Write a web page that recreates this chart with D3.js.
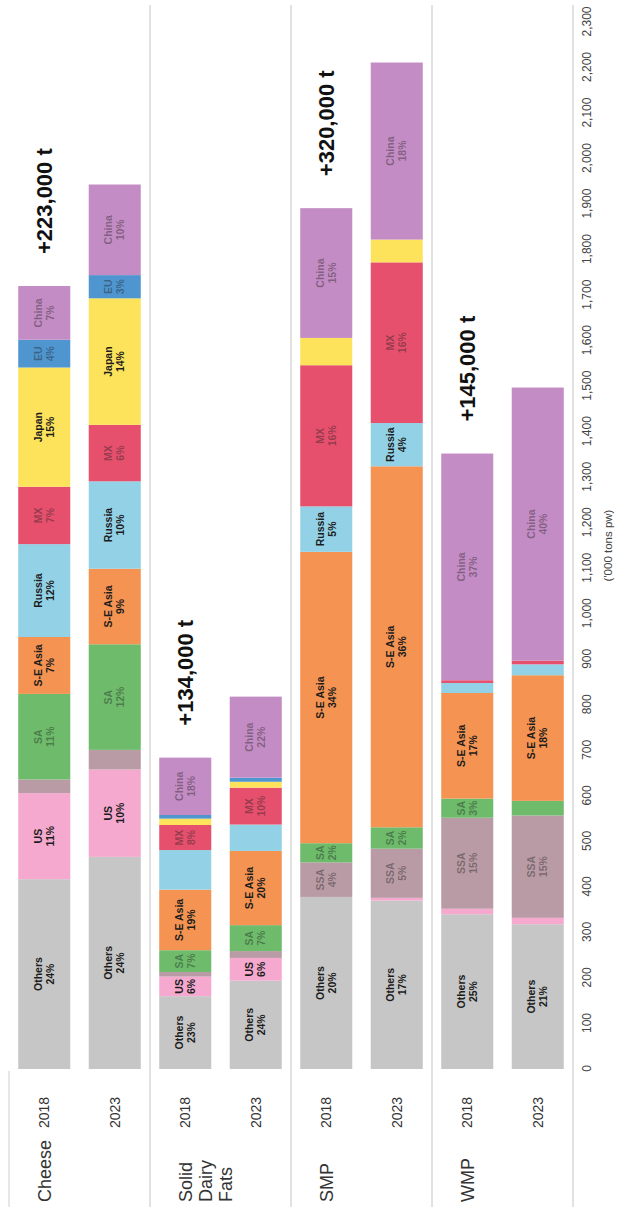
<!DOCTYPE html>
<html>
<head>
<meta charset="utf-8">
<script src="https://cdn.jsdelivr.net/npm/d3@7"></script>
<style>
  html, body { margin: 0; padding: 0; background: #fff; }
  svg { display: block; font-family: "Liberation Sans", Arial, sans-serif; }
</style>
</head>
<body>
<svg id="chart" width="620" height="1209"></svg>
<script>
// Products and years compared
const products = ["Cheese", "Solid Dairy Fats", "SMP", "WMP"];
const years = ["2018", "2023"];

// Importing regions, in stacking order
const regions = ["Others", "US", "SSA", "SA", "S-E Asia", "Russia", "MX", "Japan", "EU", "China"];

// Import volumes per region ('000 tons product weight), same order as `regions`
const cheese2018 = [417, 189, 30, 188, 125, 204, 126, 262, 61, 118];
const cheese2023 = [466, 192, 43, 232, 166, 192, 124, 278, 51, 199];
const sdf2018    = [160, 43, 10, 48, 133, 87, 55, 14, 8, 126];
const sdf2023    = [194, 50, 15, 57, 163, 58, 81, 13, 9, 178];
const smp2018    = [378, 0, 76, 42, 640, 100, 310, 60, 0, 285];
const smp2023    = [370, 6, 108, 47, 793, 95, 353, 50, 0, 389];
const wmp2018    = [340, 12, 200, 42, 232, 22, 6, 0, 0, 498];
const wmp2023    = [318, 14, 225, 32, 276, 24, 8, 0, 0, 600];

// Value axis ticks
const axisTicks = d3.range(0, 2301, 100);

// Segments too thin to carry a text label
const unlabelled = [
  "Cheese 2018 SSA", "Cheese 2023 SSA",
  "Solid Dairy Fats 2018 SSA", "Solid Dairy Fats 2018 Russia", "Solid Dairy Fats 2018 Japan", "Solid Dairy Fats 2018 EU",
  "Solid Dairy Fats 2023 SSA", "Solid Dairy Fats 2023 Russia", "Solid Dairy Fats 2023 Japan", "Solid Dairy Fats 2023 EU",
  "SMP 2018 Japan", "SMP 2023 US", "SMP 2023 Japan",
  "WMP 2018 US", "WMP 2018 Russia", "WMP 2018 MX",
  "WMP 2023 US", "WMP 2023 SA", "WMP 2023 Russia", "WMP 2023 MX"
];

const seriesByProduct = {
  "Cheese": [cheese2018, cheese2023],
  "Solid Dairy Fats": [sdf2018, sdf2023],
  "SMP": [smp2018, smp2023],
  "WMP": [wmp2018, wmp2023]
};

// Segment colours
const color = d3.scaleOrdinal()
  .domain(regions)
  .range(["#c6c6c6", "#f5a9cf", "#b99ba5", "#6dbb6b", "#f49352", "#93d2e6", "#e6506d", "#fce35b", "#4f95cf", "#c48cc4"]);

// Labels drawn in a soft tone on these colours
const softText = new Set(["SSA", "SA", "MX", "EU", "China"]);

// Table for the stack layout: one row per bar
const rows = [];
products.forEach(p => years.forEach((yr, i) => {
  const row = { product: p, year: yr, key: p + " " + yr };
  regions.forEach((r, j) => row[r] = seriesByProduct[p][i][j]);
  row.total = d3.sum(regions, r => row[r]);
  rows.push(row);
}));

const stacked = d3.stack().keys(regions)(rows);

// The chart is laid out horizontally (1209 x 620) and turned a quarter turn
const W = 1209, H = 620;
const svg = d3.select("#chart");
const g = svg.append("g").attr("transform", `translate(0,${W}) rotate(-90)`);

const x = d3.scaleLinear().domain([0, 2300]).range([140, 1187]);
const y = d3.scaleBand()
  .domain(rows.map(d => d.key))
  .range([9, 573])
  .paddingInner(0.262)
  .paddingOuter(0.131);

// Group separators
const half = y.step() * y.paddingInner() / 2;
const bounds = products.map(p => y(p + " " + years[0]) - half);
g.append("line")
  .attr("x1", 2).attr("x2", x(0) - 2)
  .attr("y1", bounds[0]).attr("y2", bounds[0])
  .attr("stroke", "#cfcfcf").attr("stroke-width", 1);
g.selectAll("line.sep")
  .data(bounds.slice(1).concat([y.range()[1]]))
  .join("line")
  .attr("class", "sep")
  .attr("x1", 2).attr("x2", 1204)
  .attr("y1", d => d).attr("y2", d => d)
  .attr("stroke", "#c4c4c4").attr("stroke-width", 1);

// Stacked bars
const layers = g.append("g").selectAll("g")
  .data(stacked)
  .join("g")
  .attr("fill", d => color(d.key));

layers.selectAll("rect")
  .data(d => d.map(s => Object.assign(s, { region: d.key })))
  .join("rect")
  .filter(d => d[1] > d[0])
  .attr("x", d => x(d[0]))
  .attr("width", d => x(d[1]) - x(d[0]))
  .attr("y", d => y(d.data.key))
  .attr("height", y.bandwidth());

// Segment labels: region name and share of the bar total
const labelData = [];
stacked.forEach(layer => layer.forEach(s => {
  const v = s[1] - s[0];
  if (v <= 0) return;
  if (unlabelled.includes(s.data.key + " " + layer.key)) return;
  labelData.push({
    region: layer.key,
    bar: s.data.key,
    mid: (s[0] + s[1]) / 2,
    pct: Math.round(v / s.data.total * 100)
  });
}));

const segLabels = g.append("g")
  .attr("font-size", 10.5)
  .attr("font-weight", "bold")
  .attr("text-anchor", "middle")
  .selectAll("text")
  .data(labelData)
  .join("text")
  .attr("transform", d => `translate(${x(d.mid)},${y(d.bar) + y.bandwidth() / 2})`)
  .attr("fill", d => softText.has(d.region) ? "rgba(30,30,30,0.42)" : "#1c1c1c");
segLabels.append("tspan").attr("x", 0).attr("y", -2.5).text(d => d.region);
segLabels.append("tspan").attr("x", 0).attr("y", 9.5).text(d => d.pct + "%");

// Growth between the two years, beside each product's 2018 bar
const growth = products.map(p => {
  const a = rows.find(r => r.key === p + " " + years[0]);
  const b = rows.find(r => r.key === p + " " + years[1]);
  return { product: p, from: a.total, key: a.key, change: b.total - a.total };
});
g.append("g").selectAll("text")
  .data(growth)
  .join("text")
  .attr("x", d => x(d.from) + 32)
  .attr("y", d => y(d.key) + y.bandwidth() / 2)
  .attr("dy", "0.36em")
  .attr("font-size", 22)
  .attr("font-weight", "bold")
  .attr("fill", "#111")
  .text(d => "+" + d3.format(",")(d.change * 1000) + " t");

// Product and year labels
const cat = g.append("g").attr("fill", "#333");
products.forEach(p => {
  const cy = y(p + " " + years[0]) + y.bandwidth() / 2;
  p.split(" ").forEach((word, i) => {
    cat.append("text")
      .attr("x", 7).attr("y", cy + i * 20)
      .attr("dy", "0.36em")
      .attr("font-size", 18)
      .text(word);
  });
  years.forEach(yr => {
    cat.append("text")
      .attr("x", 81).attr("y", y(p + " " + yr) + y.bandwidth() / 2)
      .attr("dy", "0.36em")
      .attr("font-size", 14)
      .text(yr);
  });
});

// Value axis
const axis = g.append("g")
  .attr("transform", `translate(0,${y.range()[1]})`)
  .call(d3.axisBottom(x).tickValues(axisTicks).tickSize(0).tickPadding(9).tickFormat(d3.format(",")));
axis.select(".domain").remove();
axis.selectAll("text")
  .attr("font-size", 12)
  .attr("font-family", "\"Liberation Sans\", Arial, sans-serif")
  .attr("fill", "#444");

g.append("text")
  .attr("x", x(1150))
  .attr("y", 612)
  .attr("text-anchor", "middle")
  .attr("font-size", 11.5)
  .attr("fill", "#444")
  .text("('000 tons pw)");
</script>
</body>
</html>
